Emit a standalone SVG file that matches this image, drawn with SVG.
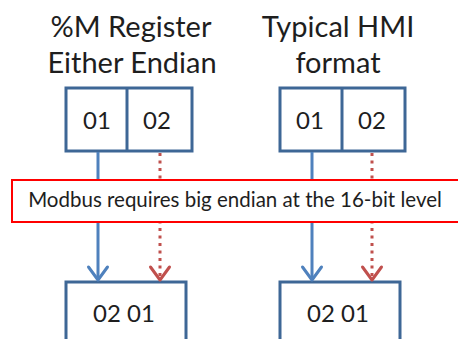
<svg xmlns="http://www.w3.org/2000/svg" width="458" height="339" viewBox="0 0 458 339">
<defs>
<style>
.t{font-family:Lato,"Liberation Sans",sans-serif;fill:#1e1e1e;text-anchor:middle}
.title{font-size:29px}
.cell{font-size:24px}
.note{font-size:20.5px}
.box{fill:#fff;stroke:#3e6796;stroke-width:3}
.blue{stroke:#4f81bd;stroke-width:3;fill:none}
.red{stroke:#c0504d;stroke-width:3;fill:none;stroke-dasharray:3 4.5}
.bh{stroke:#4f81bd;stroke-width:3;fill:none;stroke-linecap:round;stroke-linejoin:round}
.rh{stroke:#c0504d;stroke-width:3;fill:none;stroke-linecap:round;stroke-linejoin:round}
</style>
</defs>
<rect width="458" height="339" fill="#fff"/>
<g id="title-left">
<text class="t title" x="131" y="37">%M Register</text>
<text class="t title" x="132" y="73">Either Endian</text>
</g>
<g id="title-right">
<text class="t title" x="338" y="37">Typical HMI</text>
<text class="t title" x="338" y="73">format</text>
</g>
<g id="reg-left">
<rect class="box" x="66" y="88" width="126" height="63"/>
<line class="box" x1="127" y1="88" x2="127" y2="151"/>
<text class="t cell" x="97" y="129">01</text>
<text class="t cell" x="157" y="129">02</text>
</g>
<g id="reg-right">
<rect class="box" x="280" y="88" width="125" height="63"/>
<line class="box" x1="342" y1="88" x2="342" y2="151"/>
<text class="t cell" x="310" y="129">01</text>
<text class="t cell" x="372" y="129">02</text>
</g>
<g id="out-left">
<rect class="box" x="66" y="282" width="120" height="70"/>
<text class="t cell" x="124" y="322">02 01</text>
</g>
<g id="out-right">
<rect class="box" x="280" y="282" width="120" height="70"/>
<text class="t cell" x="338" y="322">02 01</text>
</g>
<g id="connectors">
<line class="blue" x1="98" y1="152" x2="98" y2="279"/>
<polyline class="bh" points="88.5,267 98,280 107.5,267"/>
<line class="red" x1="160" y1="153" x2="160" y2="279"/>
<polyline class="rh" points="150.5,267 160,280 169.5,267"/>
<line class="blue" x1="312" y1="152" x2="312" y2="279"/>
<polyline class="bh" points="302.5,267 312,280 321.5,267"/>
<line class="red" x1="372" y1="153" x2="372" y2="279"/>
<polyline class="rh" points="362.5,267 372,280 381.5,267"/>
</g>
<g id="note">
<rect x="12" y="180" width="460" height="42" fill="#fff" stroke="#ff0000" stroke-width="2"/>
<text class="t note" x="235" y="207">Modbus requires big endian at the 16-bit level</text>
</g>
</svg>
